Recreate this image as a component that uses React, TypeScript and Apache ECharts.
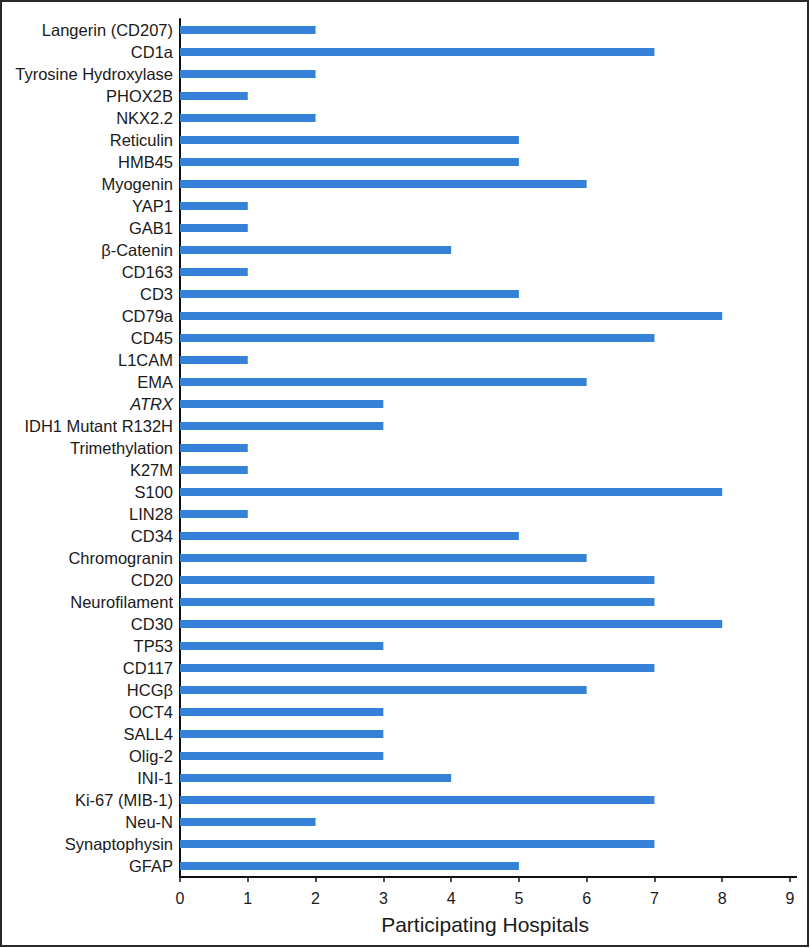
import React, { useEffect, useRef } from "react";
import * as echarts from "echarts";

const markers = [
  "Langerin (CD207)", "CD1a", "Tyrosine Hydroxylase", "PHOX2B", "NKX2.2", "Reticulin", "HMB45",
  "Myogenin", "YAP1", "GAB1", "β-Catenin", "CD163", "CD3", "CD79a", "CD45", "L1CAM", "EMA",
  "ATRX", "IDH1 Mutant R132H", "Trimethylation", "K27M", "S100", "LIN28", "CD34", "Chromogranin",
  "CD20", "Neurofilament", "CD30", "TP53", "CD117", "HCGβ", "OCT4", "SALL4", "Olig-2", "INI-1",
  "Ki-67 (MIB-1)", "Neu-N", "Synaptophysin", "GFAP",
];
const hospitals = [
  2, 7, 2, 1, 2, 5, 5,
  6, 1, 1, 4, 1, 5, 8, 7, 1, 6,
  3, 3, 1, 1, 8, 1, 5, 6,
  7, 7, 8, 3, 7, 6, 3, 3, 3, 4,
  7, 2, 7, 5,
];
const italicLabels = ["ATRX"];
const xTicks = [0, 1, 2, 3, 4, 5, 6, 7, 8, 9];
const xTitle = "Participating Hospitals";

const FONT = "'Liberation Sans', Arial, Helvetica, sans-serif";

export default function App() {
  const ref = useRef<HTMLDivElement>(null);
  useEffect(() => {
    if (!ref.current) return;
    const chart = echarts.init(ref.current, null, { renderer: "svg" });
    chart.setOption({
      animation: false,
      backgroundColor: "#ffffff",
      grid: { left: 180, right: 20, top: 19, bottom: 71, containLabel: false },
      xAxis: {
        type: "value",
        min: xTicks[0],
        max: xTicks[xTicks.length - 1],
        interval: 1,
        name: xTitle,
        nameLocation: "middle",
        nameGap: 37,
        nameTextStyle: { fontFamily: FONT, fontSize: 21, color: "#1a1a1a" },
        axisLine: { show: true, lineStyle: { color: "#111", width: 2 } },
        axisTick: { show: true, length: 5, lineStyle: { color: "#111", width: 1.5 } },
        axisLabel: { fontFamily: FONT, fontSize: 16, color: "#1a1a1a", margin: 13 },
        splitLine: { show: false },
      },
      yAxis: {
        type: "category",
        data: markers,
        inverse: true,
        axisLine: { show: true, lineStyle: { color: "#111", width: 2 } },
        axisTick: { show: false },
        axisLabel: {
          fontFamily: FONT,
          fontSize: 16.5,
          color: "#1a1a1a",
          margin: 7,
          interval: 0,
          formatter: (v: string) => (italicLabels.includes(v) ? `{i|${v}}` : v),
          rich: {
            i: { fontFamily: FONT, fontSize: 16.5, fontStyle: "italic", color: "#1a1a1a" },
          },
        },
        splitLine: { show: false },
      },
      series: [
        {
          type: "bar",
          data: hospitals,
          barWidth: 8,
          itemStyle: { color: "#3481d7" },
        },
      ],
      graphic: [
        {
          type: "line",
          shape: { x1: 789, y1: 877, x2: 797, y2: 877 },
          style: { stroke: "#111", lineWidth: 2 },
        },
        {
          type: "rect",
          shape: { x: 1, y: 1, width: 807, height: 945 },
          style: { fill: "none", stroke: "#2a2a2a", lineWidth: 2 },
          silent: true,
        },
      ],
    });
    return () => chart.dispose();
  }, []);
  return (
    <div
      ref={ref}
      style={{ position: "absolute", left: 0, top: 0, width: 810, height: 948 }}
    />
  );
}
